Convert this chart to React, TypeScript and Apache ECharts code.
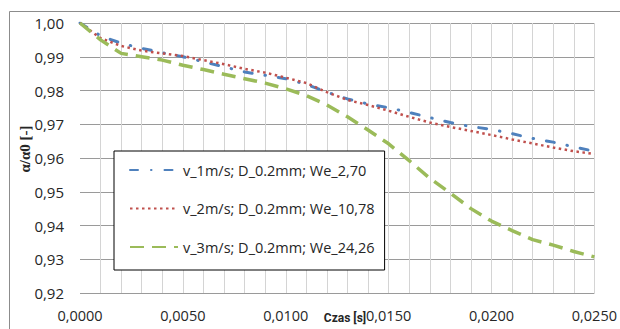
import React, { useEffect, useRef } from "react";
import * as echarts from "echarts";

const times = [
  0, 0.001, 0.002, 0.003, 0.004, 0.005, 0.006, 0.007, 0.008, 0.009, 0.01,
  0.011, 0.012, 0.013, 0.014, 0.015, 0.016, 0.017, 0.018, 0.019, 0.02,
  0.021, 0.022, 0.023, 0.024, 0.025,
];

const v1 = [
  1.0, 0.9962, 0.994, 0.9925, 0.9912, 0.99, 0.9885, 0.987, 0.9855, 0.9845,
  0.9835, 0.9818, 0.9795, 0.9775, 0.976, 0.9749, 0.9735, 0.972, 0.9705,
  0.9693, 0.9685, 0.9672, 0.9658, 0.9647, 0.9633, 0.962,
];

const v2 = [
  1.0, 0.9955, 0.9932, 0.9918, 0.991, 0.9902, 0.989, 0.9878, 0.9864, 0.9853,
  0.9838, 0.9822, 0.9795, 0.9772, 0.9757, 0.974, 0.9722, 0.9705, 0.9692,
  0.968, 0.9668, 0.9655, 0.9643, 0.9631, 0.962, 0.9612,
];

const v3 = [
  1.0, 0.995, 0.991, 0.99, 0.989, 0.9875, 0.9862, 0.9848, 0.9835, 0.9822,
  0.9805, 0.9785, 0.9757, 0.9722, 0.9683, 0.9642, 0.9592, 0.954, 0.9496,
  0.945, 0.9413, 0.9385, 0.9358, 0.9342, 0.9323, 0.9307,
];

const seriesNames = [
  "v_1m/s; D_0.2mm; We_2,70",
  "v_2m/s; D_0.2mm; We_10,78",
  "v_3m/s; D_0.2mm; We_24,26",
];

const xTitle = "Czas [s]";
const yTitle = "α/α0 [-]";

const FONT = "'Open Sans', 'Noto Sans', sans-serif";

export default function App() {
  const ref = useRef<HTMLDivElement>(null);

  useEffect(() => {
    if (!ref.current) return;
    const chart = echarts.init(ref.current, null, { renderer: "svg" });
    const pair = (vals: number[]) => times.map((t, i) => [t, vals[i]]);

    chart.setOption({
      animation: false,
      backgroundColor: "#ffffff",
      grid: { left: 80, right: 18, top: 23, bottom: 36, containLabel: false },
      xAxis: {
        type: "value",
        min: 0,
        max: 0.025,
        interval: 0.005,
        axisLine: { show: false },
        axisTick: { show: false },
        minorTick: { show: false, splitNumber: 5 },
        axisLabel: {
          margin: 15,
          fontSize: 14.5,
          color: "#262626",
          fontFamily: FONT,
          formatter: (v: number) => v.toFixed(4).replace(".", ","),
        },
        splitLine: {
          show: true,
          showMinLine: false,
          lineStyle: { color: "#d4d4d4", width: 1 },
        },
        minorSplitLine: {
          show: true,
          lineStyle: { color: "#d4d4d4", width: 1 },
        },
      },
      yAxis: {
        type: "value",
        min: 0.92,
        max: 1.0,
        interval: 0.01,
        axisLine: { show: false },
        axisTick: { show: false },
        axisLabel: {
          margin: 16,
          fontSize: 15,
          color: "#262626",
          fontFamily: FONT,
          formatter: (v: number) => v.toFixed(2).replace(".", ","),
        },
        splitLine: { show: true, lineStyle: { color: "#9a9a9a", width: 1 } },
      },
      legend: {
        orient: "vertical",
        left: 114,
        top: 151,
        padding: [11.5, 10, 15.5, 15],
        itemGap: 23.5,
        itemWidth: 48,
        itemHeight: 14,
        itemStyle: { opacity: 0 },
        backgroundColor: "#ffffff",
        borderColor: "#000000",
        borderWidth: 1,
        borderRadius: 0,
        textStyle: { fontSize: 14.5, color: "#262626", fontFamily: FONT },
        data: seriesNames,
      },
      series: [
        {
          name: seriesNames[0],
          type: "line",
          data: pair(v1),
          symbol: "none",
          color: "#4f81bd",
          lineStyle: {
            color: "#4f81bd",
            width: 3,
            type: [8, 13, 0.5, 13],
            cap: "round",
          },
        },
        {
          name: seriesNames[1],
          type: "line",
          data: pair(v2),
          symbol: "none",
          color: "#c0504d",
          lineStyle: {
            color: "#c0504d",
            width: 2.5,
            type: [2.5, 3.5],
            cap: "butt",
          },
        },
        {
          name: seriesNames[2],
          type: "line",
          data: pair(v3),
          symbol: "none",
          color: "#9bbb59",
          lineStyle: {
            color: "#9bbb59",
            width: 3.5,
            type: [14, 8],
            cap: "butt",
          },
        },
      ],
      graphic: [
        {
          type: "rect",
          silent: true,
          z: -10,
          shape: { x: 9.5, y: 11.5, width: 700, height: 400 },
          style: { fill: "none", stroke: "#8c8c8c", lineWidth: 1 },
        },
        {
          type: "text",
          x: 345,
          y: 318,
          style: {
            text: xTitle,
            fontSize: 12,
            fontWeight: "bold",
            fontFamily: "Roboto, 'Open Sans', sans-serif",
            fill: "#262626",
            align: "center",
            verticalAlign: "middle",
          },
        },
        {
          type: "text",
          x: 25,
          y: 149,
          rotation: Math.PI / 2,
          style: {
            text: yTitle,
            fontSize: 15,
            fontWeight: "bold",
            fontFamily: "'Liberation Serif', 'DejaVu Serif', serif",
            fill: "#262626",
            align: "center",
            verticalAlign: "middle",
          },
        },
      ],
    });

    return () => chart.dispose();
  }, []);

  return (
    <div
      ref={ref}
      style={{ width: 620, height: 329, position: "absolute", left: 0, top: 0 }}
    />
  );
}
